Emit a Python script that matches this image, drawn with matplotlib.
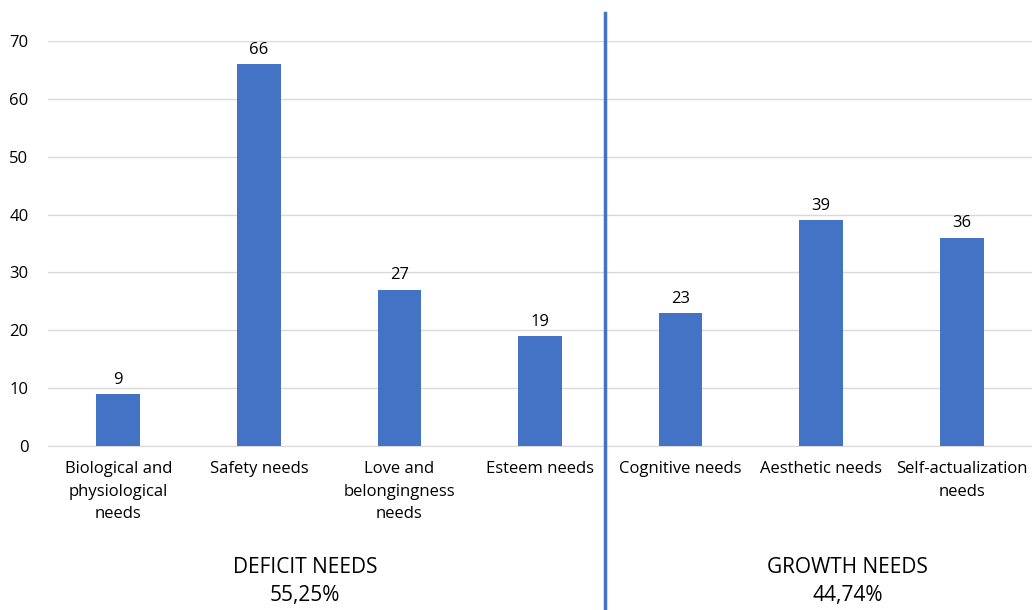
import matplotlib
matplotlib.use("Agg")
import matplotlib.pyplot as plt
from matplotlib.transforms import blended_transform_factory

categories = [
    "Biological and\nphysiological\nneeds",
    "Safety needs",
    "Love and\nbelongingness\nneeds",
    "Esteem needs",
    "Cognitive needs",
    "Aesthetic needs",
    "Self-actualization\nneeds",
]
values = [9, 66, 27, 19, 23, 39, 36]
group_names = ["DEFICIT NEEDS\n55,25%", "GROWTH NEEDS\n44,74%"]

BLUE = "#4472C4"
plt.rcParams["font.family"] = ["Open Sans", "DejaVu Sans"]

fig = plt.figure(figsize=(10.32, 6.10), dpi=100)
ax = fig.add_axes([48 / 1032, 1 - 446 / 610, (1032 - 48) / 1032, 405 / 610])

x = list(range(len(categories)))
ax.bar(x, values, width=0.31, color=BLUE, zorder=3)
for xi, v in zip(x, values):
    ax.text(xi, v + 1.1, str(v), ha="center", va="bottom", fontsize=12, color="#000000")

ax.set_xlim(-0.5, len(categories) - 0.5)
ax.set_ylim(0, 70)
ax.set_yticks(range(0, 71, 10))
ax.yaxis.grid(True, color="#d9d9d9", linewidth=1, zorder=0)
ax.set_xticks(x)
ax.set_xticklabels(categories, fontsize=12, linespacing=1.55)
ax.tick_params(axis="x", length=0, pad=11)
ax.tick_params(axis="y", length=0, pad=14, labelsize=12)
for side in ["top", "right", "left"]:
    ax.spines[side].set_visible(False)
ax.spines["bottom"].set_color("#d9d9d9")

# separator between the two groups, running past the axes to the bottom of the figure
trans = blended_transform_factory(ax.transData, fig.transFigure)
ax.plot([3.465, 3.465], [0, 1 - 13 / 610], transform=trans, color=BLUE,
        linewidth=2.5, clip_on=False, zorder=4)

for gx, name in zip([1.33, 5.19], group_names):
    ax.text(gx, 1 - 557 / 610, name, transform=trans, ha="center", va="top",
            fontsize=15, linespacing=1.45)

fig.savefig("out.png", dpi=100)
